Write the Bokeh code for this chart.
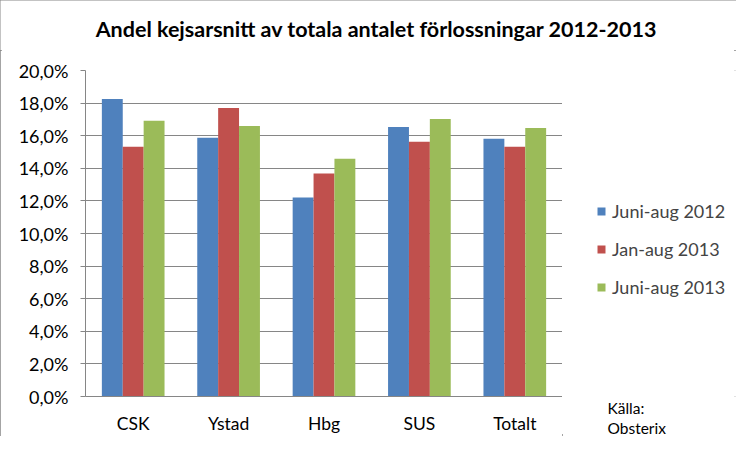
from bokeh.plotting import figure
from bokeh.layouts import column, row
from bokeh.models import (ColumnDataSource, FactorRange, Range1d, FixedTicker, Legend,
                          LegendItem, Label, Title)
from bokeh.transform import dodge
from bokeh.embed import file_html
from bokeh.resources import INLINE

categories = ["CSK", "Ystad", "Hbg", "SUS", "Totalt"]
series_names = ["Juni-aug 2012", "Jan-aug 2013", "Juni-aug 2013"]
juni_aug_2012 = [18.25, 15.87, 12.21, 16.54, 15.81]
jan_aug_2013 = [15.32, 17.70, 13.68, 15.63, 15.32]
juni_aug_2013 = [16.91, 16.60, 14.59, 17.03, 16.48]
y_ticks = [0, 2, 4, 6, 8, 10, 12, 14, 16, 18, 20]
y_tick_labels = ["0,0%", "2,0%", "4,0%", "6,0%", "8,0%", "10,0%", "12,0%",
                 "14,0%", "16,0%", "18,0%", "20,0%"]
title_text = "Andel kejsarsnitt av totala antalet förlossningar 2012-2013"
source_text = ["Källa:", "Obsterix"]

colors = ["#4F81BD", "#C0504D", "#9BBB59"]
FONT = "Lato"
GRAY = "#868686"


def blank_fig(w, h):
    f = figure(width=w, height=h, x_range=Range1d(0, 1), y_range=Range1d(0, 1),
               output_backend="svg", toolbar_location=None, title=None,
               x_axis_location=None, y_axis_location=None,
               min_border=0, min_border_left=0, min_border_right=0,
               min_border_top=0, min_border_bottom=0)
    f.outline_line_color = None
    f.grid.visible = False
    f.background_fill_color = "white"
    f.border_fill_color = "white"
    return f


# --- title strip ---
t = blank_fig(736, 50)
t.add_layout(Label(x=376, y=22, x_units="screen", y_units="screen", text=title_text,
                   text_font=FONT, text_font_style="bold", text_font_size="21.5px",
                   text_align="center", text_baseline="middle", text_color="black"))

# --- main chart ---
src = ColumnDataSource(dict(cat=categories, s0=juni_aug_2012, s1=jan_aug_2013, s2=juni_aug_2013))

p = figure(width=562, height=386, x_range=FactorRange(*categories, range_padding=0),
           y_range=Range1d(0, 20), output_backend="svg", toolbar_location=None, title=None,
           min_border_left=85, min_border_right=0, min_border_top=20, min_border_bottom=38)
p.x_range.range_padding = 0
p.outline_line_color = None
p.background_fill_color = "white"
p.border_fill_color = "white"

bw = 0.219
for i, key in enumerate(["s0", "s1", "s2"]):
    p.vbar(x=dodge("cat", (i - 1) * bw, range=p.x_range), top=key, width=bw,
           source=src, fill_color=colors[i], line_color=None)

p.xgrid.grid_line_color = None
p.ygrid.grid_line_color = GRAY
p.ygrid.grid_line_width = 1
p.yaxis.ticker = FixedTicker(ticks=y_ticks)
p.yaxis.major_label_overrides = {tk: lb for tk, lb in zip(y_ticks, y_tick_labels)}
p.yaxis.axis_line_color = GRAY
p.yaxis.major_tick_line_color = GRAY
p.yaxis.major_tick_out = 5
p.yaxis.major_tick_in = 0
p.yaxis.minor_tick_line_color = None
p.yaxis.major_label_standoff = 12
p.yaxis.major_label_text_font = FONT
p.yaxis.major_label_text_font_size = "18px"
p.yaxis.major_label_text_color = "black"

p.xaxis.axis_line_color = GRAY
p.xaxis.major_tick_line_color = None
p.xaxis.minor_tick_line_color = None
p.xaxis.major_tick_out = 0
p.xaxis.major_label_standoff = 16
p.xaxis.major_label_text_font = FONT
p.xaxis.major_label_text_font_size = "17.5px"
p.xaxis.major_label_text_color = "black"

# --- legend / source side strip ---
s = blank_fig(174, 386)
# legend swatches only (zero-size proxies, nothing visible on the canvas)
proxies = [s.vbar(x=[0], top=[0], width=0, fill_color=c, line_color=None) for c in colors]
legend = Legend(items=[LegendItem(label=n, renderers=[r]) for n, r in zip(series_names, proxies)],
                location=(34, 98), orientation="vertical", glyph_width=10, glyph_height=10,
                label_text_font=FONT, label_text_font_size="18px", label_standoff=6,
                spacing=16, padding=0, margin=0, border_line_color=None,
                background_fill_alpha=0)
s.add_layout(legend, "center")
for txt in source_text:
    s.add_layout(Title(text=txt, align="left", offset=45, standoff=0,
                       text_font=FONT, text_font_size="15.5px", text_font_style="normal",
                       text_color="black"), "below")

layout = column(t, row(p, s, spacing=0), spacing=0,
                styles={"outline": "2px solid #868686", "outline-offset": "-2px"})

open("out.html", "w").write(file_html(layout, INLINE))
